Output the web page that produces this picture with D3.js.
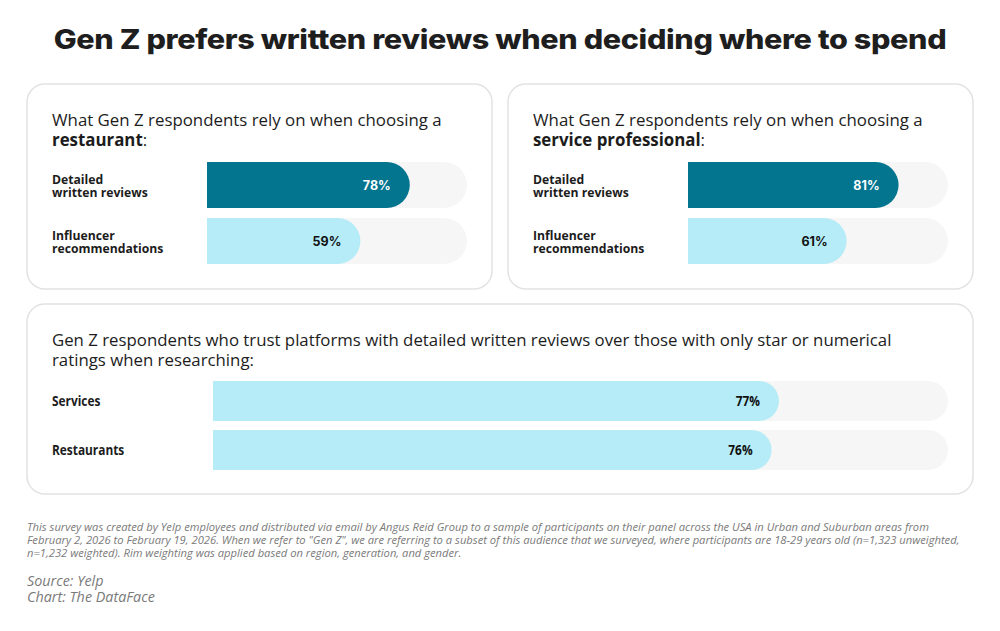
<!DOCTYPE html>
<html><head><meta charset="utf-8">
<script src="https://cdn.jsdelivr.net/npm/d3@7"></script>
<style>
html,body{margin:0;padding:0;background:#fff;}
svg{display:block;}
</style></head>
<body>
<svg id="chart" width="1000" height="631"></svg>
<script>
// ---- data ----
const titleText = "Gen Z prefers written reviews when deciding where to spend";
const panelSubjects = ["restaurant", "service professional"];
const categories = ["Detailed|written reviews", "Influencer|recommendations"];
const restaurantValues = [78, 59];
const serviceValues = [81, 61];
const trustHeading = ["Gen Z respondents who trust platforms with detailed written reviews over those with only star or numerical", "ratings when researching:"];
const trustCategories = ["Services", "Restaurants"];
const trustValues = [77, 76];
const footnoteLines = [
  "This survey was created by Yelp employees and distributed via email by Angus Reid Group to a sample of participants on their panel across the USA in Urban and Suburban areas from",
  "February 2, 2026 to February 19, 2026. When we refer to \"Gen Z\", we are referring to a subset of this audience that we surveyed, where participants are 18-29 years old (n=1,323 unweighted,",
  "n=1,232 weighted). Rim weighting was applied based on region, generation, and gender."
];
const sourceLines = ["Source: Yelp", "Chart: The DataFace"];

// ---- style ----
const DARK = "#03758f", LIGHT = "#b5ecf7", TRACK = "#f6f6f6", BORDER = "#e2e2e2", INK = "#1c1c1c";
const svg = d3.select("#chart");

function fitX(sel, target, anchorX) {
  const w = sel.node().getComputedTextLength();
  const s = target / w;
  sel.attr("transform", `translate(${anchorX},0) scale(${s},1) translate(${-anchorX},0)`);
}

function barPath(x0, x1, y, h) {
  const r = h / 2;
  return `M${x0},${y}H${x1 - r}A${r},${r} 0 0 1 ${x1 - r},${y + h}H${x0}Z`;
}

// Title
const title = svg.append("text").attr("x", 500).attr("y", 49).attr("text-anchor", "middle")
  .attr("font-family", "Inter, Poppins, sans-serif").attr("font-weight", 800).attr("font-size", 27)
  .attr("fill", "#1e1e1e").attr("letter-spacing", -0.3).text(titleText);
fitX(title, 893, 500);

// panels
svg.append("rect").attr("x", 27).attr("y", 84).attr("width", 465).attr("height", 205).attr("rx", 18)
  .attr("fill", "#fff").attr("stroke", BORDER).attr("stroke-width", 1.5);
svg.append("rect").attr("x", 508).attr("y", 84).attr("width", 465).attr("height", 205).attr("rx", 18)
  .attr("fill", "#fff").attr("stroke", BORDER).attr("stroke-width", 1.5);
svg.append("rect").attr("x", 27).attr("y", 304).attr("width", 946).attr("height", 190).attr("rx", 18)
  .attr("fill", "#fff").attr("stroke", BORDER).attr("stroke-width", 1.5);

const colors = [DARK, LIGHT];
const labelColors = ["#fff", "#111"];

function smallPanel(offsetX, subject, values) {
  const g = svg.append("g");
  const tx = offsetX + 52;
  const h = g.append("text").attr("font-family", "'Open Sans', sans-serif").attr("font-size", 16.85).attr("fill", INK);
  h.append("tspan").attr("x", tx).attr("y", 126).text("What Gen Z respondents rely on when choosing a");
  const l2 = h.append("tspan").attr("x", tx).attr("y", 146);
  l2.append("tspan").attr("font-weight", 700).text(subject);
  l2.append("tspan").text(":");

  const x = d3.scaleLinear().domain([0, 100]).range([offsetX + 207, offsetX + 467]);
  const y = d3.scaleBand().domain(categories).range([162, 264]).paddingInner(10 / 56);
  const bh = y.bandwidth();

  g.selectAll(".track").data(categories).join("path")
    .attr("d", d => barPath(x(0), x(100), y(d), bh)).attr("fill", TRACK);
  g.selectAll(".bar").data(values).join("path")
    .attr("d", (v, i) => barPath(x(0), x(v), y(categories[i]), bh)).attr("fill", (v, i) => colors[i]);
  g.selectAll(".val").data(values).join("text")
    .attr("x", v => x(v) - 19).attr("y", (v, i) => y(categories[i]) + bh / 2 + 4.5)
    .attr("text-anchor", "end").attr("font-family", "Inter, sans-serif").attr("font-weight", 700)
    .attr("font-size", 12.5).attr("fill", (v, i) => labelColors[i]).text(v => v + "%");
  categories.forEach(d => {
    d.split("|").forEach((p, k) => {
      g.append("text").attr("x", tx).attr("y", y(d) + bh / 2 + (k === 0 ? -1 : 11.5))
        .attr("font-family", "'Open Sans', sans-serif").attr("font-weight", 700).attr("font-size", 12.2)
        .attr("fill", INK).text(p);
    });
  });
}
smallPanel(0, panelSubjects[0], restaurantValues);
smallPanel(481, panelSubjects[1], serviceValues);

// bottom panel
{
  const g = svg.append("g");
  const head = g.selectAll(".th").data(trustHeading).join("text")
    .attr("x", 52).attr("y", (d, i) => 346 + i * 20)
    .attr("font-family", "'Open Sans', sans-serif").attr("font-size", 17).attr("fill", INK).text(d => d);
  const w0 = head.nodes()[0].getComputedTextLength();
  const s = 840 / w0;
  head.attr("transform", `translate(52,0) scale(${s},1) translate(-52,0)`);

  const x = d3.scaleLinear().domain([0, 100]).range([213, 948]);
  const y = d3.scaleBand().domain(trustCategories).range([381, 470]).paddingInner(9 / 49);
  const bh = y.bandwidth();
  g.selectAll(".track").data(trustCategories).join("path")
    .attr("d", d => barPath(x(0), x(100), y(d), bh)).attr("fill", TRACK);
  g.selectAll(".bar").data(trustValues).join("path")
    .attr("d", (v, i) => barPath(x(0), x(v), y(trustCategories[i]), bh)).attr("fill", LIGHT);
  g.selectAll(".val").data(trustValues).join("text")
    .attr("x", v => x(v) - 19).attr("y", (v, i) => y(trustCategories[i]) + bh / 2 + 5)
    .attr("text-anchor", "end").attr("font-family", "'Open Sans', sans-serif").attr("font-weight", 700)
    .attr("font-size", 13.5).attr("fill", "#111").text(v => v + "%")
    .each(function (v) { const ax = x(v) - 19; d3.select(this).attr("transform", `translate(${ax},0) scale(0.88,1) translate(${-ax},0)`); });
  g.selectAll(".cat").data(trustCategories).join("text")
    .attr("x", 52).attr("y", d => y(d) + bh / 2 + 5)
    .attr("font-family", "'Open Sans', sans-serif").attr("font-weight", 700).attr("font-size", 13.5).attr("fill", INK)
    .attr("transform", "translate(52,0) scale(0.88,1) translate(-52,0)").text(d => d);
}

// footnotes
const fn = svg.selectAll(".fn").data(footnoteLines).join("text")
  .attr("x", 27).attr("y", (d, i) => 531 + i * 13)
  .attr("font-family", "'Open Sans', sans-serif").attr("font-style", "italic").attr("font-size", 11)
  .attr("fill", "#7a7a7a").text(d => d);
{
  const w0 = fn.nodes()[1].getComputedTextLength();
  const s = 933 / w0;
  fn.attr("transform", `translate(27,0) scale(${s},1) translate(-27,0)`);
}
const src = svg.selectAll(".src").data(sourceLines).join("text")
  .attr("x", 27).attr("y", (d, i) => 586 + i * 16)
  .attr("font-family", "'Open Sans', sans-serif").attr("font-style", "italic").attr("font-size", 14)
  .attr("fill", "#7a7a7a").text(d => d);
{
  const w0 = src.nodes()[1].getComputedTextLength();
  const s = 128 / w0;
  src.attr("transform", `translate(27,0) scale(${s},1) translate(-27,0)`);
}
</script>
</body></html>
